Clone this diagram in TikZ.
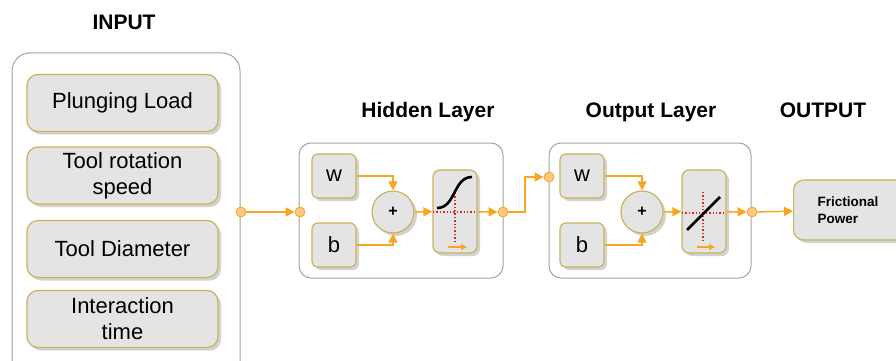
\documentclass[tikz,border=0pt]{standalone}
\usepackage{fontspec}
\setmainfont{Liberation Sans}
\usepackage{xcolor}
\usetikzlibrary{arrows.meta,shadows}
\definecolor{cgold}{HTML}{C8B45C}
\definecolor{cbox}{HTML}{E4E4E4}
\definecolor{corange}{HTML}{F7A623}
\definecolor{cport}{HTML}{FCC886}
\definecolor{cframe}{HTML}{A3A3A3}
\definecolor{cred}{HTML}{D12B2B}
\tikzset{>={Triangle[length=9pt,width=9pt]},
  cell/.style={draw=cgold,fill=cbox,line width=1.2pt,rounded corners=6pt,inner sep=0pt,
    drop shadow={shadow xshift=3pt,shadow yshift=-3pt,opacity=0.35},font=\fontsize{22}{26}\selectfont},
  inbox/.style={cell,rounded corners=11pt,minimum width=191pt,minimum height=57pt,align=center},
  wbox/.style={cell,minimum width=44pt,minimum height=44pt},
  actbox/.style={cell,rounded corners=7pt,minimum width=44pt,minimum height=83pt},
  sumnode/.style={cell,circle,minimum size=42pt,font=\fontsize{16}{16}\selectfont\bfseries},
  port/.style={circle,draw=corange,fill=cport,line width=0.8pt,minimum size=10pt,inner sep=0pt},
  layer/.style={draw=cframe,fill=white,line width=1pt,rounded corners=12pt},
  wire/.style={corange,line width=1.5pt},
  tinyarrow/.style={corange,line width=1.3pt,-{Triangle[length=6pt,width=6pt]}},
  reddot/.style={cred,dotted,line width=1.4pt},
  title/.style={font=\fontsize{21}{21}\selectfont\bfseries,anchor=base}}

\begin{document}
\begin{tikzpicture}[x=1pt,y=-1pt]
\clip (0,0) rectangle (896,361);

% ===== Input =====
\node[title] (tin) at (124,30) {INPUT};
\draw[layer,rounded corners=18pt] (12,53) rectangle (240,390);
\node[inbox] (load) at (122.5,103) {Plunging Load};
\node[inbox] (speed) at (122.5,175.5) {Tool rotation\\speed};
\node[inbox] (diam) at (122.5,249) {Tool Diameter};
\node[inbox] (itime) at (122.5,319) {Interaction\\time};
\node[port] (inport) at (241,212) {};

% ===== Hidden layer =====
\node[title] (thid) at (428,117) {Hidden Layer};
\draw[layer] (299,143) rectangle (503,278);
\node[wbox] (hw) at (334,176) {w};
\node[wbox] (hb) at (334,245) {b};
\node[sumnode] (hsum) at (393,212) {+};
\node[actbox] (hact) at (455,211.5) {};
\draw[reddot] (433,212) -- (477,212);
\draw[reddot] (455,193) -- (455,243);
\draw[line width=2.6pt] (437,208) .. controls (456,208) and (453,177) .. (472,177);
\draw[tinyarrow] (448,247) -- (467,247);
\node[port] (hin) at (300,212) {};
\node[port] (hout) at (503,212) {};
\draw[wire,->] (inport) -- (hin);
\draw[wire,->] (hw.east) -| (hsum.north);
\draw[wire,->] (hb.east) -| (hsum.south);
\draw[wire,->] (hsum) -- (hact);
\draw[wire,->] (hact) -- (hout);

% ===== Output layer =====
\node[title] (tout) at (651,117) {Output Layer};
\draw[layer] (549,143) rectangle (751,278);
\node[wbox] (ow) at (582,176) {w};
\node[wbox] (ob) at (582,245) {b};
\node[sumnode] (osum) at (642,212) {+};
\node[actbox] (oact) at (704,211.5) {};
\draw[reddot] (682,213) -- (726,213);
\draw[reddot] (703,192) -- (703,242);
\draw[line width=2.6pt] (687,230) -- (720,197);
\draw[tinyarrow] (697,247) -- (715,247);
\node[port] (oin) at (549,177) {};
\node[port] (oout) at (752,212) {};
\coordinate (hbend) at (525,212);
\draw[wire,->] (hout) -- (hbend) |- (oin);
\draw[wire,->] (ow.east) -| (osum.north);
\draw[wire,->] (ob.east) -| (osum.south);
\draw[wire,->] (osum) -- (oact);
\draw[wire,->] (oact) -- (oout);

% ===== Output =====
\node[title] (tres) at (823,117) {OUTPUT};
\node[cell,anchor=west,rounded corners=10pt,minimum height=60pt,text width=80pt,inner xsep=24pt,
  align=left,font=\fontsize{13.5}{17}\selectfont\bfseries] (power) at (793,210) {Frictional\\Power};
\draw[wire,->] (oout) -- (power);

\end{tikzpicture}
\end{document}
